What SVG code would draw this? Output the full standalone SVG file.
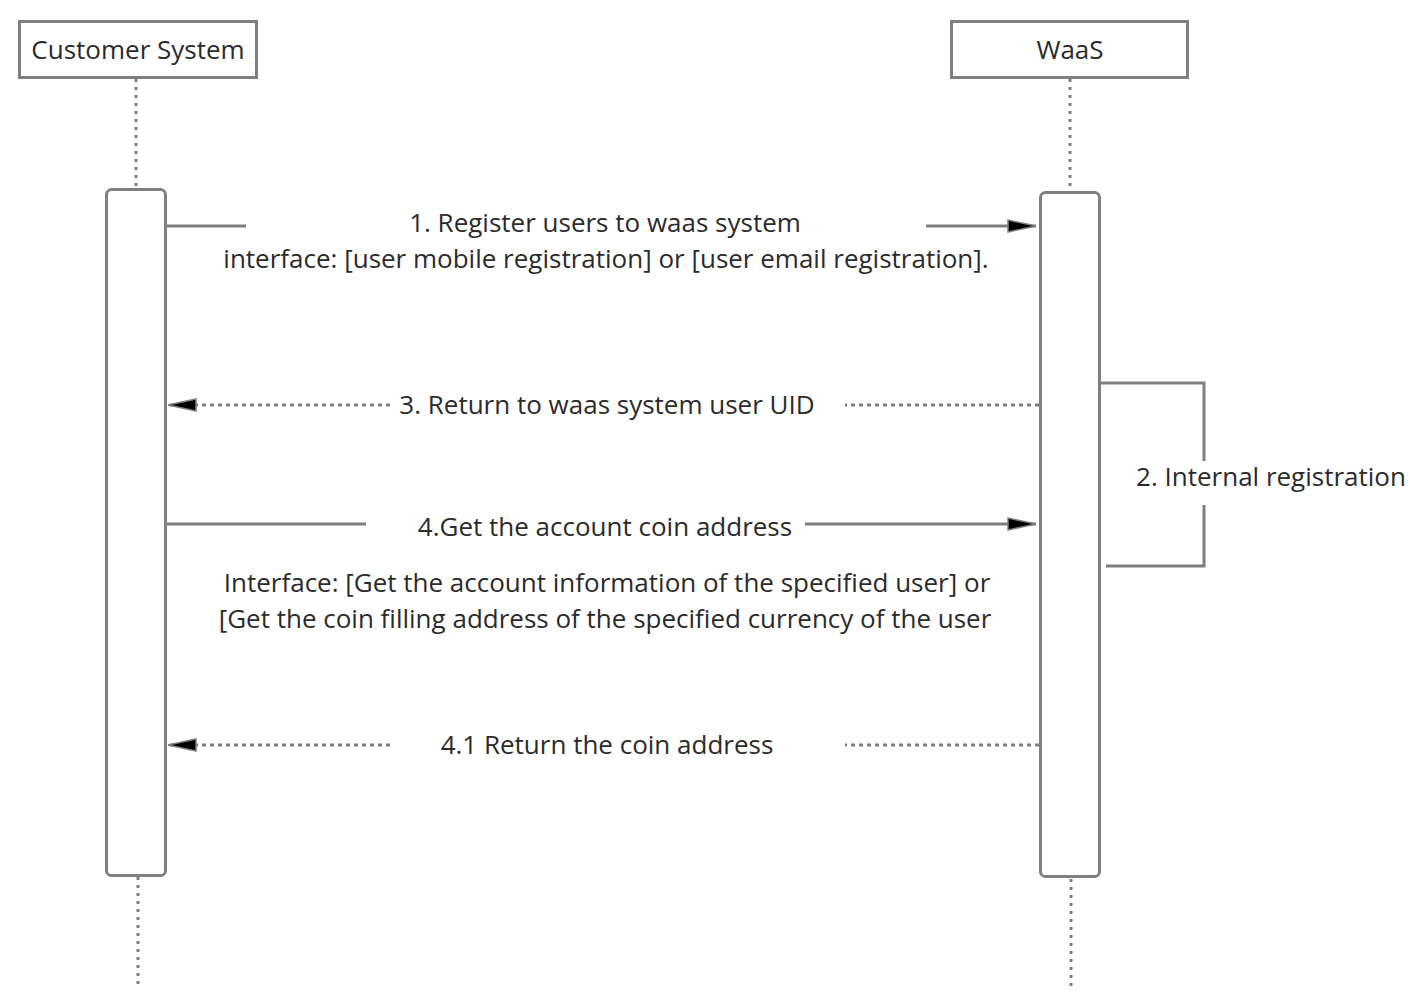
<svg xmlns="http://www.w3.org/2000/svg" width="1410" height="1004" viewBox="0 0 1410 1004">
<style>
.box{fill:#fff;stroke:#7f7f7f;stroke-width:3}
.bar{fill:#fff;stroke:#7f7f7f;stroke-width:3}
.life{stroke:#7f7f7f;stroke-width:3;stroke-dasharray:3 5;fill:none}
.msg{stroke:#7f7f7f;stroke-width:3;fill:none}
.ret{stroke:#7f7f7f;stroke-width:3;stroke-dasharray:4 4;fill:none}
text{font-family:"Open Sans","Liberation Sans",Arial,sans-serif;font-size:26px;fill:#2b2b2b;text-anchor:middle}
</style>
<defs>
<marker id="ah" markerUnits="userSpaceOnUse" markerWidth="32" markerHeight="16" refX="29" refY="7" orient="auto">
<path d="M1,1 L29,7 L1,13 Z" fill="#000" stroke="#7f7f7f" stroke-width="1.5"/>
</marker>
</defs>
<rect width="1410" height="1004" fill="#fff"/>
<g id="customer">
<rect class="box" x="19.5" y="21.5" width="237" height="56"/>
<text x="138" y="59">Customer System</text>
<line class="life" x1="136" y1="79" x2="136" y2="188"/>
<rect class="bar" x="106.5" y="189.5" width="59" height="686" rx="5"/>
<line class="life" x1="138" y1="877" x2="138" y2="988"/>
</g>
<g id="waas">
<rect class="box" x="951.5" y="21.5" width="236" height="56"/>
<text x="1070" y="59">WaaS</text>
<line class="life" x1="1070" y1="79" x2="1070" y2="190"/>
<rect class="bar" x="1040.5" y="192.5" width="59" height="684" rx="5"/>
<line class="life" x1="1071" y1="879" x2="1071" y2="990"/>
</g>
<g id="connectors">
<line class="msg" x1="167" y1="226" x2="246" y2="226"/>
<line class="msg" x1="926" y1="226" x2="1036" y2="226" marker-end="url(#ah)"/>
<text x="605" y="232">1. Register users to waas system</text>
<text x="606" y="268">interface: [user mobile registration] or [user email registration].</text>

<line class="ret" x1="1039" y1="405" x2="845" y2="405"/>
<line class="ret" x1="390" y1="405" x2="168" y2="405" marker-end="url(#ah)"/>
<text x="607" y="414">3. Return to waas system user UID</text>

<polyline class="msg" points="1101,383 1204,383 1204,461"/>
<polyline class="msg" points="1204,505 1204,566 1106,566"/>
<text x="1271" y="486">2. Internal registration</text>

<line class="msg" x1="167" y1="524" x2="366" y2="524"/>
<line class="msg" x1="805" y1="524" x2="1036" y2="524" marker-end="url(#ah)"/>
<text x="605" y="536">4.Get the account coin address</text>
<text x="607" y="592">Interface: [Get the account information of the specified user] or</text>
<text x="605" y="628">[Get the coin filling address of the specified currency of the user</text>

<line class="ret" x1="1039" y1="745" x2="845" y2="745"/>
<line class="ret" x1="390" y1="745" x2="168" y2="745" marker-end="url(#ah)"/>
<text x="607" y="754">4.1 Return the coin address</text>
</g>
</svg>
